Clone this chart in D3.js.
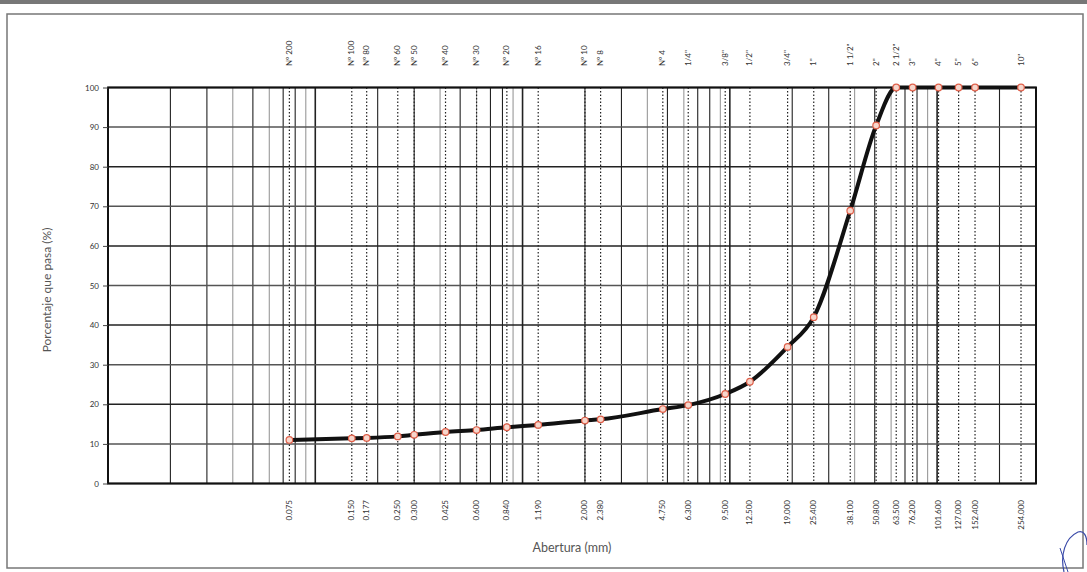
<!DOCTYPE html>
<html>
<head>
<meta charset="utf-8">
<script src="https://cdn.jsdelivr.net/npm/d3@7"></script>
<style>
  html, body { margin: 0; padding: 0; background: #fff; }
  svg { display: block; }
</style>
</head>
<body>
<svg id="chart" width="1087" height="572"></svg>
<script>
// ---- data ----
const sieveNames = ["Nº 200","Nº 100","Nº 80","Nº 60","Nº 50","Nº 40","Nº 30","Nº 20","Nº 16","Nº 10","Nº 8","Nº 4","1/4\"","3/8\"","1/2\"","3/4\"","1\"","1 1/2\"","2\"","2 1/2\"","3\"","4\"","5\"","6\"","10\""];
const openings = [0.075,0.150,0.177,0.250,0.300,0.425,0.600,0.840,1.190,2.000,2.380,4.750,6.300,9.500,12.500,19.000,25.400,38.100,50.800,63.500,76.200,101.600,127.000,152.400,254.000];
const openingLabels = ["0.075","0.150","0.177","0.250","0.300","0.425","0.600","0.840","1.190","2.000","2.380","4.750","6.300","9.500","12.500","19.000","25.400","38.100","50.800","63.500","76.200","101.600","127.000","152.400","254.000"];
const percentPassing = [11.0,11.4,11.5,11.9,12.3,13.0,13.5,14.2,14.8,15.9,16.2,18.8,19.8,22.6,25.7,34.5,42.0,68.9,90.4,100,100,100,100,100,100];
const yTicks = [0,10,20,30,40,50,60,70,80,90,100];
const xTitle = "Abertura (mm)";
const yTitle = "Porcentaje que pasa (%)";

// ---- layout ----
const svg = d3.select("#chart");
const L = 108, R = 1036, T = 87.5, B = 483.5;
const x = d3.scaleLog().domain([0.01, 300]).range([L, R]);
const y = d3.scaleLinear().domain([0, 100]).range([B, T]);
const font = "Lato, 'Open Sans', sans-serif";
const textCol = "#555";

// document frame
svg.append("rect").attr("x", 0).attr("y", 0).attr("width", 1087).attr("height", 4).attr("fill", "#777");
svg.append("rect").attr("x", 7).attr("y", 14).attr("width", 1076).attr("height", 554)
  .attr("fill", "none").attr("stroke", "#777").attr("stroke-width", 1.5);

// log grid (vertical solid lines)
const gridVals = [];
for (let e = -2; e <= 2; e++) {
  for (let m = 1; m <= 9; m++) {
    const v = m * Math.pow(10, e);
    if (v > 0.01 && v < 300) gridVals.push({v, m});
  }
}
svg.append("g").selectAll("line").data(gridVals).join("line")
  .attr("x1", d => x(d.v)).attr("x2", d => x(d.v))
  .attr("y1", T).attr("y2", B)
  .attr("stroke", d => (d.m === 4 || d.m === 6 || d.m === 9) ? "#999" : "#222")
  .attr("stroke-width", d => d.m === 1 ? 1.6 : 1.1);

// horizontal grid
svg.append("g").selectAll("line").data(yTicks).join("line")
  .attr("x1", L).attr("x2", R)
  .attr("y1", d => y(d)).attr("y2", d => y(d))
  .attr("stroke", d => d % 20 === 0 ? "#222" : "#555")
  .attr("stroke-width", 1.5);

// sieve dotted lines
svg.append("g").selectAll("line").data(openings).join("line")
  .attr("x1", d => x(d)).attr("x2", d => x(d))
  .attr("y1", T).attr("y2", B)
  .attr("stroke", "#222").attr("stroke-width", 1.2)
  .attr("stroke-dasharray", "1.5,2");

// plot border
svg.append("rect").attr("x", L).attr("y", T).attr("width", R - L).attr("height", B - T)
  .attr("fill", "none").attr("stroke", "#111").attr("stroke-width", 2);

// y axis ticks & labels
const yAxis = d3.axisLeft(y).tickValues(yTicks).tickSize(5).tickPadding(4);
const gy = svg.append("g").attr("transform", `translate(${L},0)`).call(yAxis);
gy.select(".domain").remove();
gy.selectAll(".tick line").attr("stroke", "#444");
gy.selectAll(".tick text").attr("font-family", font).attr("font-size", 8).attr("fill", "#333");

// top labels (sieve names)
svg.append("g").selectAll("text").data(sieveNames).join("text")
  .attr("transform", (d, i) => `translate(${x(openings[i]) + 2.5},66) rotate(-90)`)
  .attr("text-anchor", "start")
  .attr("font-family", font).attr("font-size", 8).attr("fill", "#333")
  .text(d => d);

// bottom labels (openings)
svg.append("g").selectAll("text").data(openingLabels).join("text")
  .attr("transform", (d, i) => `translate(${x(openings[i]) + 2.5},500) rotate(-90)`)
  .attr("text-anchor", "end")
  .attr("font-family", font).attr("font-size", 8).attr("fill", "#333")
  .text(d => d);

// axis titles
svg.append("text").attr("x", 572).attr("y", 552).attr("text-anchor", "middle")
  .attr("font-family", font).attr("font-size", 12.5).attr("fill", textCol).text(xTitle);
svg.append("text").attr("transform", "translate(51,290) rotate(-90)").attr("text-anchor", "middle")
  .attr("font-family", font).attr("font-size", 12).attr("fill", textCol).text(yTitle);

// curve
const pts = openings.map((o, i) => [o, percentPassing[i]]);
const line = d3.line().x(d => x(d[0])).y(d => y(d[1])).curve(d3.curveMonotoneX);
svg.append("path").datum(pts).attr("d", line)
  .attr("fill", "none").attr("stroke", "#111").attr("stroke-width", 4)
  .attr("stroke-linejoin", "round").attr("stroke-linecap", "round");

// markers
svg.append("g").selectAll("circle").data(pts).join("circle")
  .attr("cx", d => x(d[0])).attr("cy", d => y(d[1])).attr("r", 3.3)
  .attr("fill", "#f6d6cc").attr("stroke", "#e0604a").attr("stroke-width", 1.2);

// signature scribble
svg.append("path").attr("d", "M1064,572 C1060,555 1065,538 1078,532 C1084,530 1087,536 1087,545")
  .attr("fill", "none").attr("stroke", "#3a4aa8").attr("stroke-width", 1.2);
svg.append("path").attr("d", "M1060,548 L1068,572")
  .attr("fill", "none").attr("stroke", "#3a4aa8").attr("stroke-width", 1);
</script>
</body>
</html>
